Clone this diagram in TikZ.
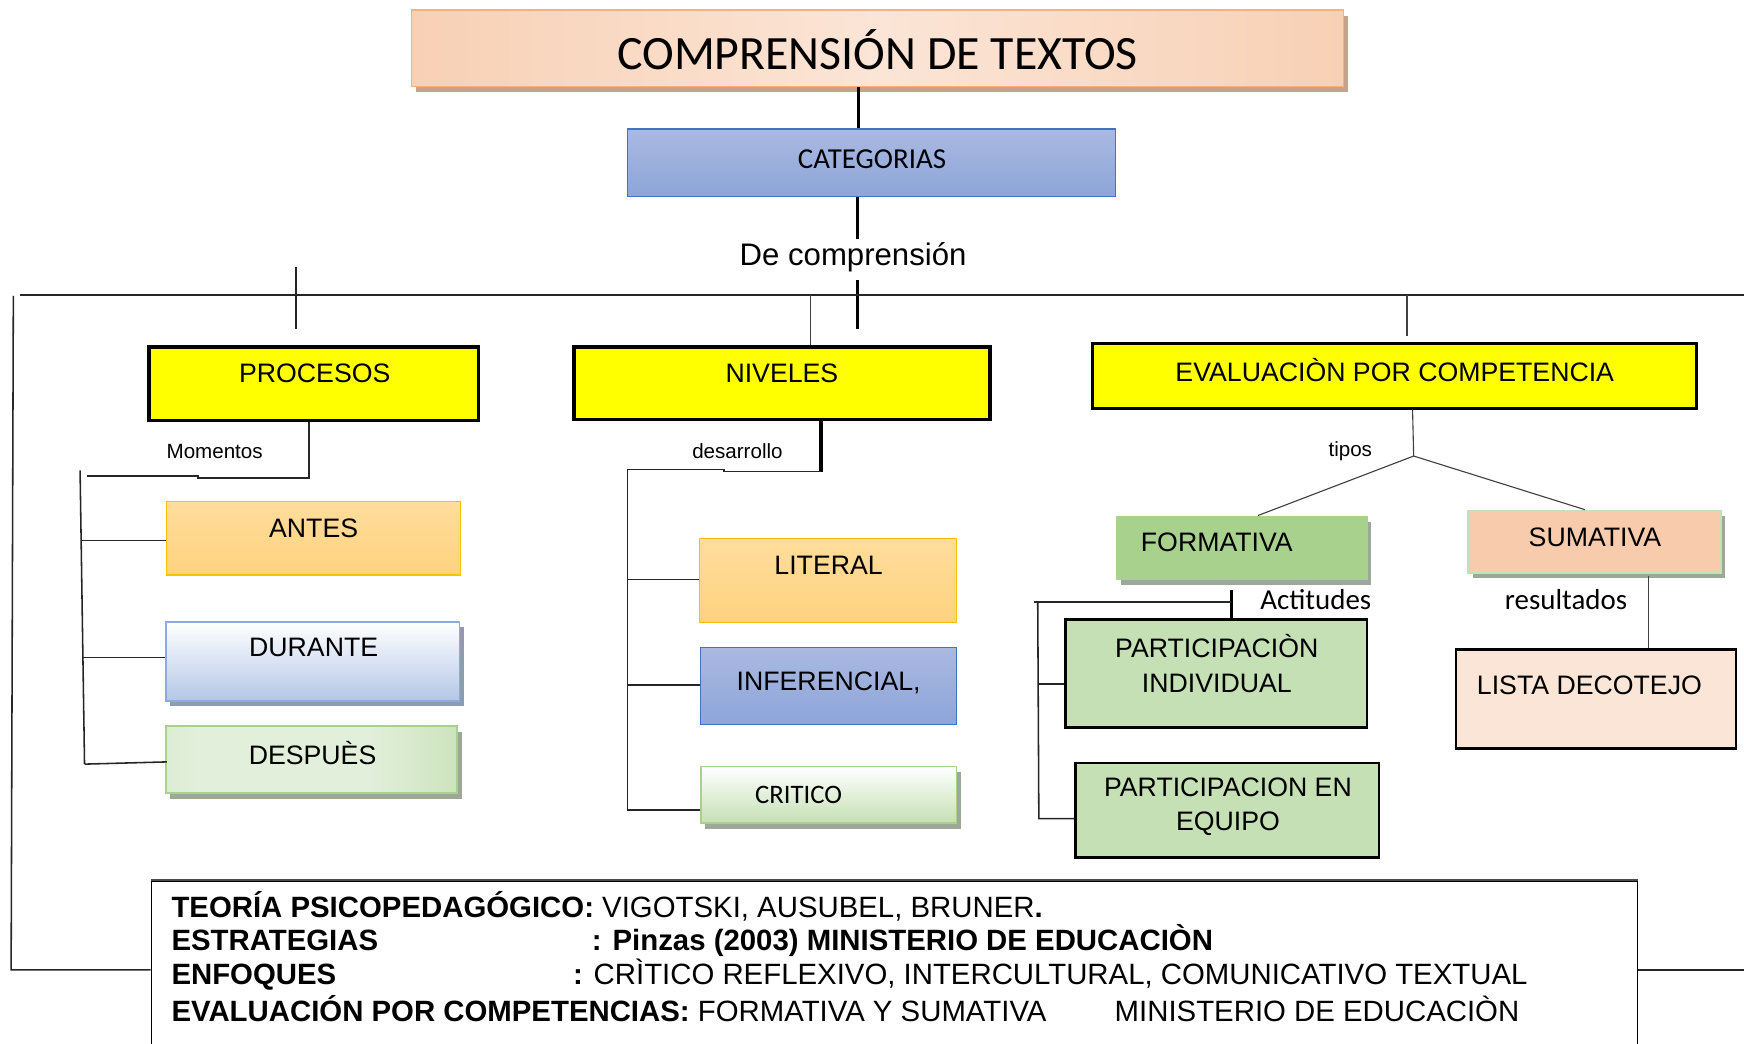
\documentclass[tikz,border=0pt]{standalone}
\usepackage{fontspec}
\setmainfont{Liberation Sans}
\newfontfamily\calfont{Carlito}
\usetikzlibrary{shadows}
\definecolor{yel}{HTML}{FFFF00}
\definecolor{orA}{HTML}{FFDD9C}
\definecolor{orB}{HTML}{FFD27F}
\definecolor{orBd}{HTML}{FFC000}
\definecolor{blA}{HTML}{AAB9E1}
\definecolor{blB}{HTML}{8DA5D9}
\definecolor{blBd}{HTML}{4472C4}
\definecolor{lbA}{HTML}{FFFFFF}
\definecolor{lbB}{HTML}{B4C7E7}
\definecolor{lbBd}{HTML}{8FAADC}
\definecolor{grA}{HTML}{A9D18E}
\definecolor{grL}{HTML}{E2EFDA}
\definecolor{grM}{HTML}{C5E0B4}
\definecolor{peA}{HTML}{F4B183}
\definecolor{peL}{HTML}{FBE5D6}
\definecolor{peM}{HTML}{F8CBAD}
\definecolor{shG}{HTML}{9EA89A}
\definecolor{shB}{HTML}{8E9BB5}
\definecolor{shO}{HTML}{C9A28E}
\pgfdeclarehorizontalshading{ttlshade}{100bp}{color(0bp)=(peA); color(22bp)=(peA!45!peL); color(50bp)=(peL); color(78bp)=(peA!45!peL); color(100bp)=(peA)}
\pgfdeclarehorizontalshading{despshade}{100bp}{color(0bp)=(grA!60!grL); color(30bp)=(grL); color(60bp)=(grL); color(100bp)=(grA)}
\begin{document}
\begin{tikzpicture}[x=1pt,y=-1pt,
  box/.style={draw, rectangle, inner sep=0pt, line width=1pt},
  ybox/.style={box, fill=yel, line width=3pt},
  tx/.style={inner sep=0pt, font=\fontsize{24}{31}\selectfont},
  txb/.style={inner sep=0pt, font=\fontsize{26.4}{31}\selectfont},
  txs/.style={inner sep=0pt, font=\fontsize{18.5}{22}\selectfont},
  txc/.style={inner sep=0pt, font=\calfont\fontsize{#1}{#1}\selectfont},
  shad/.style={drop shadow={shadow xshift=4pt, shadow yshift=-5pt, fill=#1, opacity=1}},
  lk/.style={line width=1.4pt, draw=black!85},
  lkb/.style={line width=3pt},
  lkt/.style={line width=1pt, draw=black!75}]
\useasboundingbox (0,0) rectangle (1568,938);
\fill[white] (0,0) rectangle (1568,938);

% ---------- top ----------
\node[box, draw=peA, minimum width=838pt, minimum height=69pt,
  shading=ttlshade, shad=shO] (title) at (789,43.5) {};
\node[txc=43] (titleT) at (789,45) {COMPRENSIÓN DE TEXTOS};

\node[box, draw=blBd, minimum width=439pt, minimum height=61pt,
  top color=blA, bottom color=blB] (cat) at (783.5,146.5) {};
\node[txc=26] (catT) at (784,143) {CATEGORIAS};

\coordinate (xa) at (772,0);
\draw[lkb] (title.south -| xa) -- (cat.north -| xa);
\node[inner sep=0pt, font=\fontsize{28}{33}\selectfont] (dc) at (767,231) {De comprensión};
\coordinate (xb) at (771,215);
\draw[lkb] (cat.south -| xb) -- (xb);
\coordinate (xc) at (771,252);
\coordinate (xd) at (771,296);
\draw[lkb] (xc) -- (xd);

% main horizontal and frame
\coordinate (hl0) at (18,265);
\coordinate (hl1) at (1568,265);
\draw[lk] (hl0) -- (hl1);
\coordinate (t1a) at (266,240);
\coordinate (t1b) at (266,296);
\draw[lk] (t1a) -- (t1b);

% ---------- level 1 ----------
\node[ybox, minimum width=296pt, minimum height=66pt] (proc) at (282,345) {};
\node[tx] (procT) at (283,336) {PROCESOS};
\node[ybox, minimum width=374pt, minimum height=65pt] (niv) at (703,344.5) {};
\node[tx] (nivT) at (703,336) {NIVELES};
\node[ybox, minimum width=543pt, minimum height=58pt] (eva) at (1253.5,338) {};
\node[tx] (evaT) at (1254,333) {EVALUACIÒN POR COMPETENCIA};

\coordinate (t2) at (729,265);
\draw[lkt] (t2) -- (t2 |- niv.north);
\coordinate (t3a) at (1265,265);
\coordinate (t3b) at (1265,302);
\draw[lkt] (t3a) -- (t3b);

% ---------- procesos ----------
\node[box, draw=orBd, minimum width=264pt, minimum height=66pt, top color=orA, bottom color=orB] (antes) at (282,484) {};
\node[tx] (antesT) at (282,475) {ANTES};
\node[box, draw=lbBd, line width=1.5pt, minimum width=264pt, minimum height=71pt, top color=lbA, bottom color=lbB, shad=shB] (dur) at (281,594.5) {};
\node[tx] (durT) at (282,582) {DURANTE};
\node[box, draw=grA, line width=1.5pt, minimum width=262pt, minimum height=60pt,
  shading=despshade, shad=shG] (desp) at (280,683) {};
\node[tx] (despT) at (281,677) {DESPUÈS};

\node[txs] (mom) at (193,406) {Momentos};
\coordinate (p1) at (278,430);
\coordinate (p2) at (178,430);
\coordinate (p3) at (178,428);
\coordinate (p4) at (78,428);
\draw[lk] (proc.south -| p1) -- (p1) -- (p2) -- (p3) -- (p4);
\coordinate (pv0) at (72,423);
\coordinate (pv1) at (76,687);
\draw[lk] (pv0) -- (pv1);
\coordinate (pa) at (73,486);
\coordinate (pb) at (75,591);
\draw[lk] (pa) -- (pa -| antes.west);
\draw[lk] (pb) -- (pb -| dur.west);
\coordinate (pc) at (150,685);
\draw[lk] (pv1) -- (pc);

% ---------- niveles ----------
\node[box, draw=orBd, minimum width=231pt, minimum height=76pt, top color=orA, bottom color=orB] (lit) at (744.5,522) {};
\node[tx] (litT) at (745,508) {LITERAL};
\node[box, draw=blBd, minimum width=230pt, minimum height=69pt, top color=blA, bottom color=blB] (inf) at (745,616.5) {};
\node[tx] (infT) at (745,614) {INFERENCIAL,};
\node[box, draw=grA, line width=1.5pt, minimum width=230pt, minimum height=51pt, top color=white, bottom color=grM, shad=shG] (cri) at (745,714.5) {};
\node[txc=24] (criT) at (718,715) {CRITICO};

\node[txs] (des) at (663,406) {desarrollo};
\coordinate (n1) at (738,424);
\draw[lkb] (niv.south -| n1) -- (n1);
\coordinate (n2) at (651,424);
\coordinate (n3) at (651,422);
\coordinate (n4) at (564,422);
\coordinate (n5) at (564,728);
\draw[lk] (n1) -- (n2) -- (n3) -- (n4) -- (n5) -- (n5 -| cri.west);
\coordinate (na) at (564,521);
\coordinate (nb) at (564,616);
\draw[lk] (na) -- (na -| lit.west);
\draw[lk] (nb) -- (nb -| inf.west);

% ---------- evaluacion ----------
\node[box, draw=grA, minimum width=225pt, minimum height=57pt, fill=grA, shad=shG] (form) at (1116.5,492.5) {};
\node[tx] (formT) at (1094,488) {FORMATIVA};
\node[box, draw=grM, line width=1.5pt, minimum width=227pt, minimum height=56pt, fill=peM, shad=shG] (sum) at (1433.5,487) {};
\node[tx] (sumT) at (1434,483) {SUMATIVA};

\node[txs] (tip) at (1214,406) {tipos};
\coordinate (e1) at (1271,410);
\coordinate (e0) at (1270,0);
\draw[lkt] (eva.south -| e0) -- (e1);
\coordinate (ef) at (1131,0);
\coordinate (es) at (1425,0);
\draw[lkt] (e1) -- (form.north -| ef);
\draw[lkt] (e1) -- (sum.north -| es);

\node[box, line width=2pt, minimum width=271pt, minimum height=97pt, fill=grM] (pind) at (1093.5,605.5) {};
\node[tx, align=center] (pindT) at (1094,596.5) {PARTICIPACIÒN\\INDIVIDUAL};
\node[box, line width=2pt, minimum width=273pt, minimum height=85pt, fill=grM] (peq) at (1103.5,728.5) {};
\node[tx, align=center] (peqT) at (1104,725.5) {PARTICIPACION EN\\EQUIPO};
\node[box, line width=2pt, minimum width=252pt, minimum height=89pt, fill=peL] (lista) at (1435,628.5) {};
\node[tx] (listaT) at (1429,616) {LISTA DECOTEJO};

\node[txc=26] (act) at (1183,539) {Actitudes};
\node[txc=26] (res) at (1408,539) {resultados};

\coordinate (f1) at (1107,530);
\draw[lkb] (f1) -- (f1 |- pind.north);
\coordinate (f2) at (1107,541);
\coordinate (f3) at (930,541);
\draw[lk] (f2) -- (f3);
\coordinate (f4) at (933,541);
\coordinate (f5) at (934,736);
\draw[lk] (f4) -- (f5) -- (f5 -| peq.west);
\coordinate (f6) at (933,615);
\draw[lk] (f6) -- (f6 -| pind.west);

\coordinate (s1) at (1482,518);
\draw[lkt] (s1) -- (s1 |- lista.north);

% ---------- bottom ----------
\node[box, line width=1.2pt, minimum width=1336pt, minimum height=158pt] (bot) at (804,871) {};
\draw[line width=2.2pt, draw=black!70] (bot.north west) -- (bot.north east);
\coordinate (fr0) at (12,266);
\coordinate (fr1) at (10,872);
\draw[lk] (fr0) -- (fr1) -- (fr1 -| bot.west);
\coordinate (fr2) at (1568,872);
\draw[lk] (fr2 -| bot.east) -- (fr2);

\node[txb, anchor=base west] (b1) at (154,825) {\textbf{TEORÍA PSICOPEDAGÓGICO:} VIGOTSKI, AUSUBEL, BRUNER\textbf{.}};
\node[txb, anchor=base west] (b2) at (154,855) {\textbf{ESTRATEGIAS}};
\node[txb, anchor=base west] (b2b) at (532,855) {\textbf{: Pinzas (2003) MINISTERIO DE EDUCACIÒN}};
\node[txb, anchor=base west] (b3) at (154,885) {\textbf{ENFOQUES}};
\node[txb, anchor=base west] (b3b) at (515,885) {\textbf{:} CRÌTICO REFLEXIVO, INTERCULTURAL, COMUNICATIVO TEXTUAL};
\node[txb, anchor=base west] (b4) at (154,918) {\textbf{EVALUACIÓN POR COMPETENCIAS:} FORMATIVA Y SUMATIVA};
\node[txb, anchor=base west] (b4b) at (1002,918) {MINISTERIO DE EDUCACIÒN};
\end{tikzpicture}
\end{document}
